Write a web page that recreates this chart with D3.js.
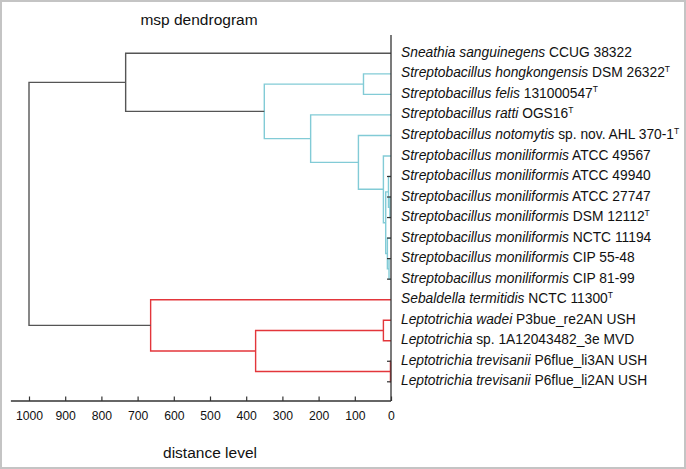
<!DOCTYPE html>
<html><head><meta charset="utf-8">
<script src="https://cdn.jsdelivr.net/npm/d3@7/dist/d3.min.js"></script>
<style>body{margin:0;background:#fff}svg{display:block;font-family:"Liberation Sans",Arial,sans-serif}</style>
</head><body><svg id="c" width="686" height="469"></svg>
<script>
// ---- data ----
const leafItalic = ["Sneathia sanguinegens","Streptobacillus hongkongensis","Streptobacillus felis","Streptobacillus ratti","Streptobacillus notomytis","Streptobacillus moniliformis","Streptobacillus moniliformis","Streptobacillus moniliformis","Streptobacillus moniliformis","Streptobacillus moniliformis","Streptobacillus moniliformis","Streptobacillus moniliformis","Sebaldella termitidis","Leptotrichia wadei","Leptotrichia","Leptotrichia trevisanii","Leptotrichia trevisanii"];
const leafRest = ["CCUG 38322","DSM 26322","131000547","OGS16","sp. nov. AHL 370-1","ATCC 49567","ATCC 49940","ATCC 27747","DSM 12112","NCTC 11194","CIP 55-48","CIP 81-99","NCTC 11300","P3bue_re2AN USH","sp. 1A12043482_3e MVD","P6flue_li3AN USH","P6flue_li2AN USH"];
const leafTypeStrain = [false,true,true,true,true,false,false,false,true,false,false,false,true,false,false,false,false];
// merges: [childA, childB, distance, group]; indices >= 17 refer to earlier merges
const merges = [
  [15,16,1.5,"lepto"],
  [10,11,5.5,"strep"],
  [7,8,3,"strep"],
  [6,19,7,"strep"],
  [9,18,10,"strep"],
  [20,21,14.6,"strep"],
  [5,22,21,"strep"],
  [13,14,21,"lepto"],
  [1,2,76,"strep"],
  [4,23,90,"strep"],
  [3,26,222,"strep"],
  [24,17,374,"lepto"],
  [25,27,350,"strep"],
  [12,28,664,"lepto"],
  [0,29,733,"root"],
  [31,30,1000,"root"]
];
const tickValues = [1000,900,800,700,600,500,400,300,200,100,0];
const groupColors = {root:"#555555", strep:"#82cbd6", lepto:"#e3363b"};
const title = "msp dendrogram", xTitle = "distance level";

// ---- drawing ----
const svg = d3.select("#c");
svg.append("rect").attr("x",1).attr("y",1).attr("width",684).attr("height",467)
  .attr("fill","#fff").attr("stroke","#c4c4c4").attr("stroke-width",2);

const x = d3.scaleLinear().domain([1000,0]).range([29,391]);
const nLeaf = leafItalic.length;
const y = d3.scalePoint().domain(d3.range(nLeaf)).range([53.3,381.8]);

const nodeY = [], nodeH = [];
for (let i=0;i<nLeaf;i++){ nodeY[i]=y(i); nodeH[i]=0; }
merges.forEach((m,k)=>{ const id=nLeaf+k; nodeY[id]=(nodeY[m[0]]+nodeY[m[1]])/2; nodeH[id]=m[2]; });

const g = svg.append("g");
g.selectAll("path.link").data(merges).join("path").attr("class","link")
  .attr("fill","none").attr("stroke",d=>groupColors[d[3]]).attr("stroke-width",1.4)
  .attr("d",d=>{const a=d[0],b=d[1];
    return `M${x(nodeH[a])},${nodeY[a]}H${x(d[2])}V${nodeY[b]}H${x(nodeH[b])}`;});

// short dark leaf ticks where the leaf joins very close to 0
const parentH = [];
merges.forEach(m=>{parentH[m[0]]=m[2];parentH[m[1]]=m[2];});
g.selectAll("line.lt").data(d3.range(nLeaf).filter(i=>parentH[i]<12)).join("line")
  .attr("x1",x(0)-4).attr("x2",x(0)).attr("y1",i=>y(i)).attr("y2",i=>y(i))
  .attr("stroke","#333").attr("stroke-width",1.2);

// vertical baseline at 0
const yAxisLine = 401;
svg.append("line").attr("x1",x(0)).attr("x2",x(0)).attr("y1",35).attr("y2",yAxisLine)
  .attr("stroke","#333").attr("stroke-width",1.3);

// bottom axis
const ax = svg.append("g").attr("transform",`translate(0,${yAxisLine})`)
  .call(d3.axisBottom(x).tickValues(tickValues).tickFormat(d3.format("d")).tickSizeInner(-4.5).tickSizeOuter(0).tickPadding(10));
ax.select(".domain").remove();
ax.append("line").attr("x1",x(1050)).attr("x2",x(0)).attr("stroke","#333").attr("stroke-width",1.3);
ax.selectAll(".tick line").attr("stroke","#333").attr("stroke-width",1.2);
ax.selectAll(".tick text").attr("fill","#111").style("font-size","12.2px").style("font-family","'Liberation Sans',Arial,sans-serif");

// leaf labels
const lab = svg.append("g").selectAll("text").data(d3.range(nLeaf)).join("text")
  .attr("x",401).attr("y",i=>y(i)+3.6).attr("fill","#111").style("font-size","13.8px");
lab.append("tspan").attr("font-style","italic").text(i=>leafItalic[i]);
lab.append("tspan").text(i=>" "+leafRest[i]);
lab.filter(i=>leafTypeStrain[i]).append("tspan").attr("dy",-5.5).style("font-size","8.5px").text("T");

// titles
svg.append("text").attr("x",199).attr("y",24.5).attr("text-anchor","middle").attr("fill","#111")
  .style("font-size","15.5px").text(title);
svg.append("text").attr("x",210).attr("y",457.5).attr("text-anchor","middle").attr("fill","#111")
  .style("font-size","15.5px").text(xTitle);
</script></body></html>
